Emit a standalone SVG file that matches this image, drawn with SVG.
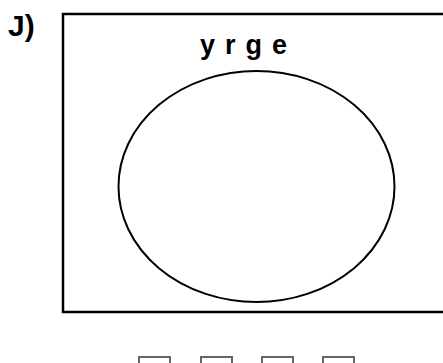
<svg xmlns="http://www.w3.org/2000/svg" width="443" height="363" viewBox="0 0 443 363">
<style>
.lbl{font-family:"Liberation Sans",Arial,sans-serif;font-weight:bold;fill:#000}
.ln{fill:none;stroke:#000}
.blank{fill:none;stroke:#666;stroke-width:2}
</style>
<rect width="443" height="363" fill="#fff"/>
<g id="label-J"><text class="lbl" x="8" y="36" font-size="30">J)</text></g>
<g id="universe">
<rect class="ln" x="63" y="14" width="400" height="298" stroke-width="2.5"/>
<text class="lbl" x="200" y="54" font-size="27" letter-spacing="10">yrge</text>
</g>
<g id="set"><ellipse class="ln" cx="256.5" cy="186.5" rx="138" ry="115.5" stroke-width="2"/></g>
<g id="answers">
<rect class="blank" x="139" y="357" width="31" height="12"/>
<rect class="blank" x="201" y="357" width="31" height="12"/>
<rect class="blank" x="262" y="357" width="31" height="12"/>
<rect class="blank" x="323" y="357" width="31" height="12"/>
</g>
<g id="connectors"></g>
</svg>
